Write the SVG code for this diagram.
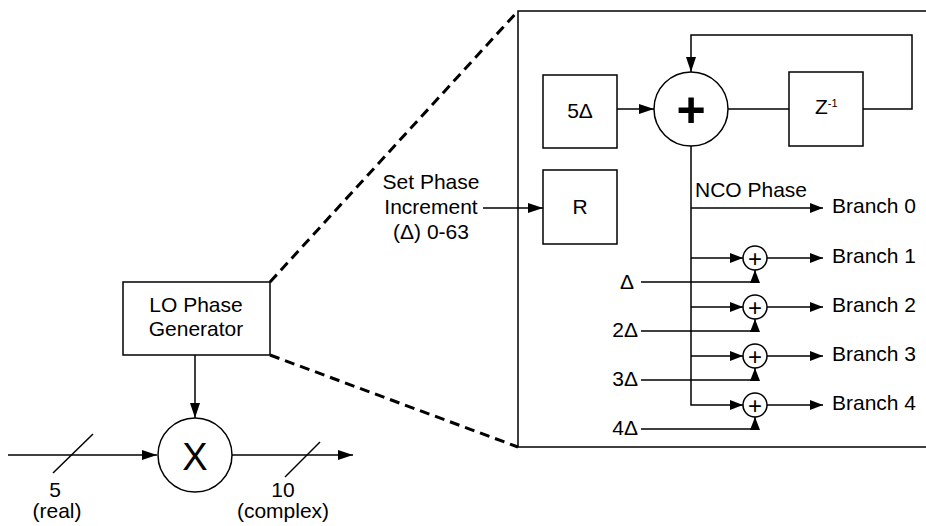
<svg xmlns="http://www.w3.org/2000/svg" width="926" height="526" viewBox="0 0 926 526">
<style>
.box{fill:#fff;stroke:#000;stroke-width:1.5}
.ln{fill:none;stroke:#000;stroke-width:1.5}
.dash{fill:none;stroke:#000;stroke-width:3;stroke-dasharray:10 6}
text{font-family:"Liberation Sans",Arial,sans-serif;font-size:21px;fill:#000}
.c{text-anchor:middle}
.e{text-anchor:end}
.sp{font-size:24px;text-anchor:middle}
</style>
<defs>
<marker id="ah" markerUnits="userSpaceOnUse" markerWidth="15" markerHeight="10" refX="15" refY="5" orient="auto"><path d="M0,0 L15,5 L0,10 z" fill="#000"/></marker>
<marker id="as" markerUnits="userSpaceOnUse" markerWidth="13" markerHeight="10" refX="13" refY="5" orient="auto"><path d="M0,0 L13,5 L0,10 z" fill="#000"/></marker>
</defs>

<g id="enclosure">
<rect x="518" y="11" width="430" height="436" fill="none" stroke="#000" stroke-width="1.5"/>
</g>

<g id="connectors">
<path class="dash" d="M270,282 L518,11"/>
<path class="dash" d="M270,355 L518,447"/>
<path class="ln" d="M8,455 H157" marker-end="url(#ah)"/>
<path class="ln" d="M53,473 L93,434"/>
<path class="ln" d="M232,455 H353" marker-end="url(#ah)"/>
<path class="ln" d="M285,477 L320,442"/>
<path class="ln" d="M195,355 V418" marker-end="url(#ah)"/>
<path class="ln" d="M483,208 H543" marker-end="url(#ah)"/>
<path class="ln" d="M617,109 H654" marker-end="url(#ah)"/>
<path class="ln" d="M728,109 H789"/>
<path class="ln" d="M863,109 H912 V35 H691 V72" marker-end="url(#ah)"/>
<path class="ln" d="M691,146 V405 H743" marker-end="url(#as)"/>
<path class="ln" d="M691,208 H823" marker-end="url(#as)"/>
<path class="ln" d="M691,258 H743" marker-end="url(#as)"/>
<path class="ln" d="M691,307 H743" marker-end="url(#as)"/>
<path class="ln" d="M691,356 H743" marker-end="url(#as)"/>
<path class="ln" d="M767,258 H823" marker-end="url(#as)"/>
<path class="ln" d="M767,307 H823" marker-end="url(#as)"/>
<path class="ln" d="M767,356 H823" marker-end="url(#as)"/>
<path class="ln" d="M767,405 H823" marker-end="url(#as)"/>
<path class="ln" d="M641,282 H755 V270" marker-end="url(#as)"/>
<path class="ln" d="M641,331 H755 V319" marker-end="url(#as)"/>
<path class="ln" d="M641,380 H755 V368" marker-end="url(#as)"/>
<path class="ln" d="M641,429 H755 V417" marker-end="url(#as)"/>
</g>

<g id="lo-phase-generator">
<rect class="box" x="123" y="282" width="147" height="73"/>
<text class="c" x="196" y="312">LO Phase</text>
<text class="c" x="196" y="336">Generator</text>
</g>

<g id="mixer">
<circle class="box" cx="195" cy="455" r="37"/>
<text class="c" x="195" y="470" style="font-size:38px">X</text>
</g>

<g id="input-label">
<text class="c" x="55" y="497">5</text>
<text class="c" x="57" y="518">(real)</text>
</g>

<g id="output-label">
<text class="c" x="283" y="497">10</text>
<text class="c" x="283" y="518">(complex)</text>
</g>

<g id="set-phase-label">
<text class="c" x="431" y="189">Set Phase</text>
<text class="c" x="431" y="214">Increment</text>
<text class="c" x="431" y="239">(Δ) 0-63</text>
</g>

<g id="five-delta">
<rect class="box" x="543" y="75" width="74" height="73"/>
<text class="c" x="580" y="118">5Δ</text>
</g>

<g id="register-r">
<rect class="box" x="543" y="170" width="74" height="74"/>
<text class="c" x="580" y="214">R</text>
</g>

<g id="accumulator">
<circle class="box" cx="691" cy="109" r="37"/>
<text class="c" x="691" y="127" style="font-size:50px;font-weight:bold">+</text>
</g>

<g id="delay">
<rect class="box" x="789" y="72" width="74" height="74"/>
<text x="815" y="114">Z<tspan style="font-size:11px" dy="-7">-1</tspan></text>
</g>

<g id="nco-phase-label">
<text x="695" y="197">NCO Phase</text>
</g>

<g id="adder1">
<circle class="box" cx="755" cy="258" r="12"/>
<text class="sp" x="755" y="266.5">+</text>
</g>
<g id="adder2">
<circle class="box" cx="755" cy="307" r="12"/>
<text class="sp" x="755" y="315.5">+</text>
</g>
<g id="adder3">
<circle class="box" cx="755" cy="356" r="12"/>
<text class="sp" x="755" y="364.5">+</text>
</g>
<g id="adder4">
<circle class="box" cx="755" cy="405" r="12"/>
<text class="sp" x="755" y="413.5">+</text>
</g>

<g id="delta-labels">
<text class="e" x="634" y="289">Δ</text>
<text class="e" x="638" y="337">2Δ</text>
<text class="e" x="638" y="386">3Δ</text>
<text class="e" x="638" y="435">4Δ</text>
</g>

<g id="branch-labels">
<text x="832" y="213">Branch 0</text>
<text x="832" y="263">Branch 1</text>
<text x="832" y="312">Branch 2</text>
<text x="832" y="361">Branch 3</text>
<text x="832" y="410">Branch 4</text>
</g>
</svg>
